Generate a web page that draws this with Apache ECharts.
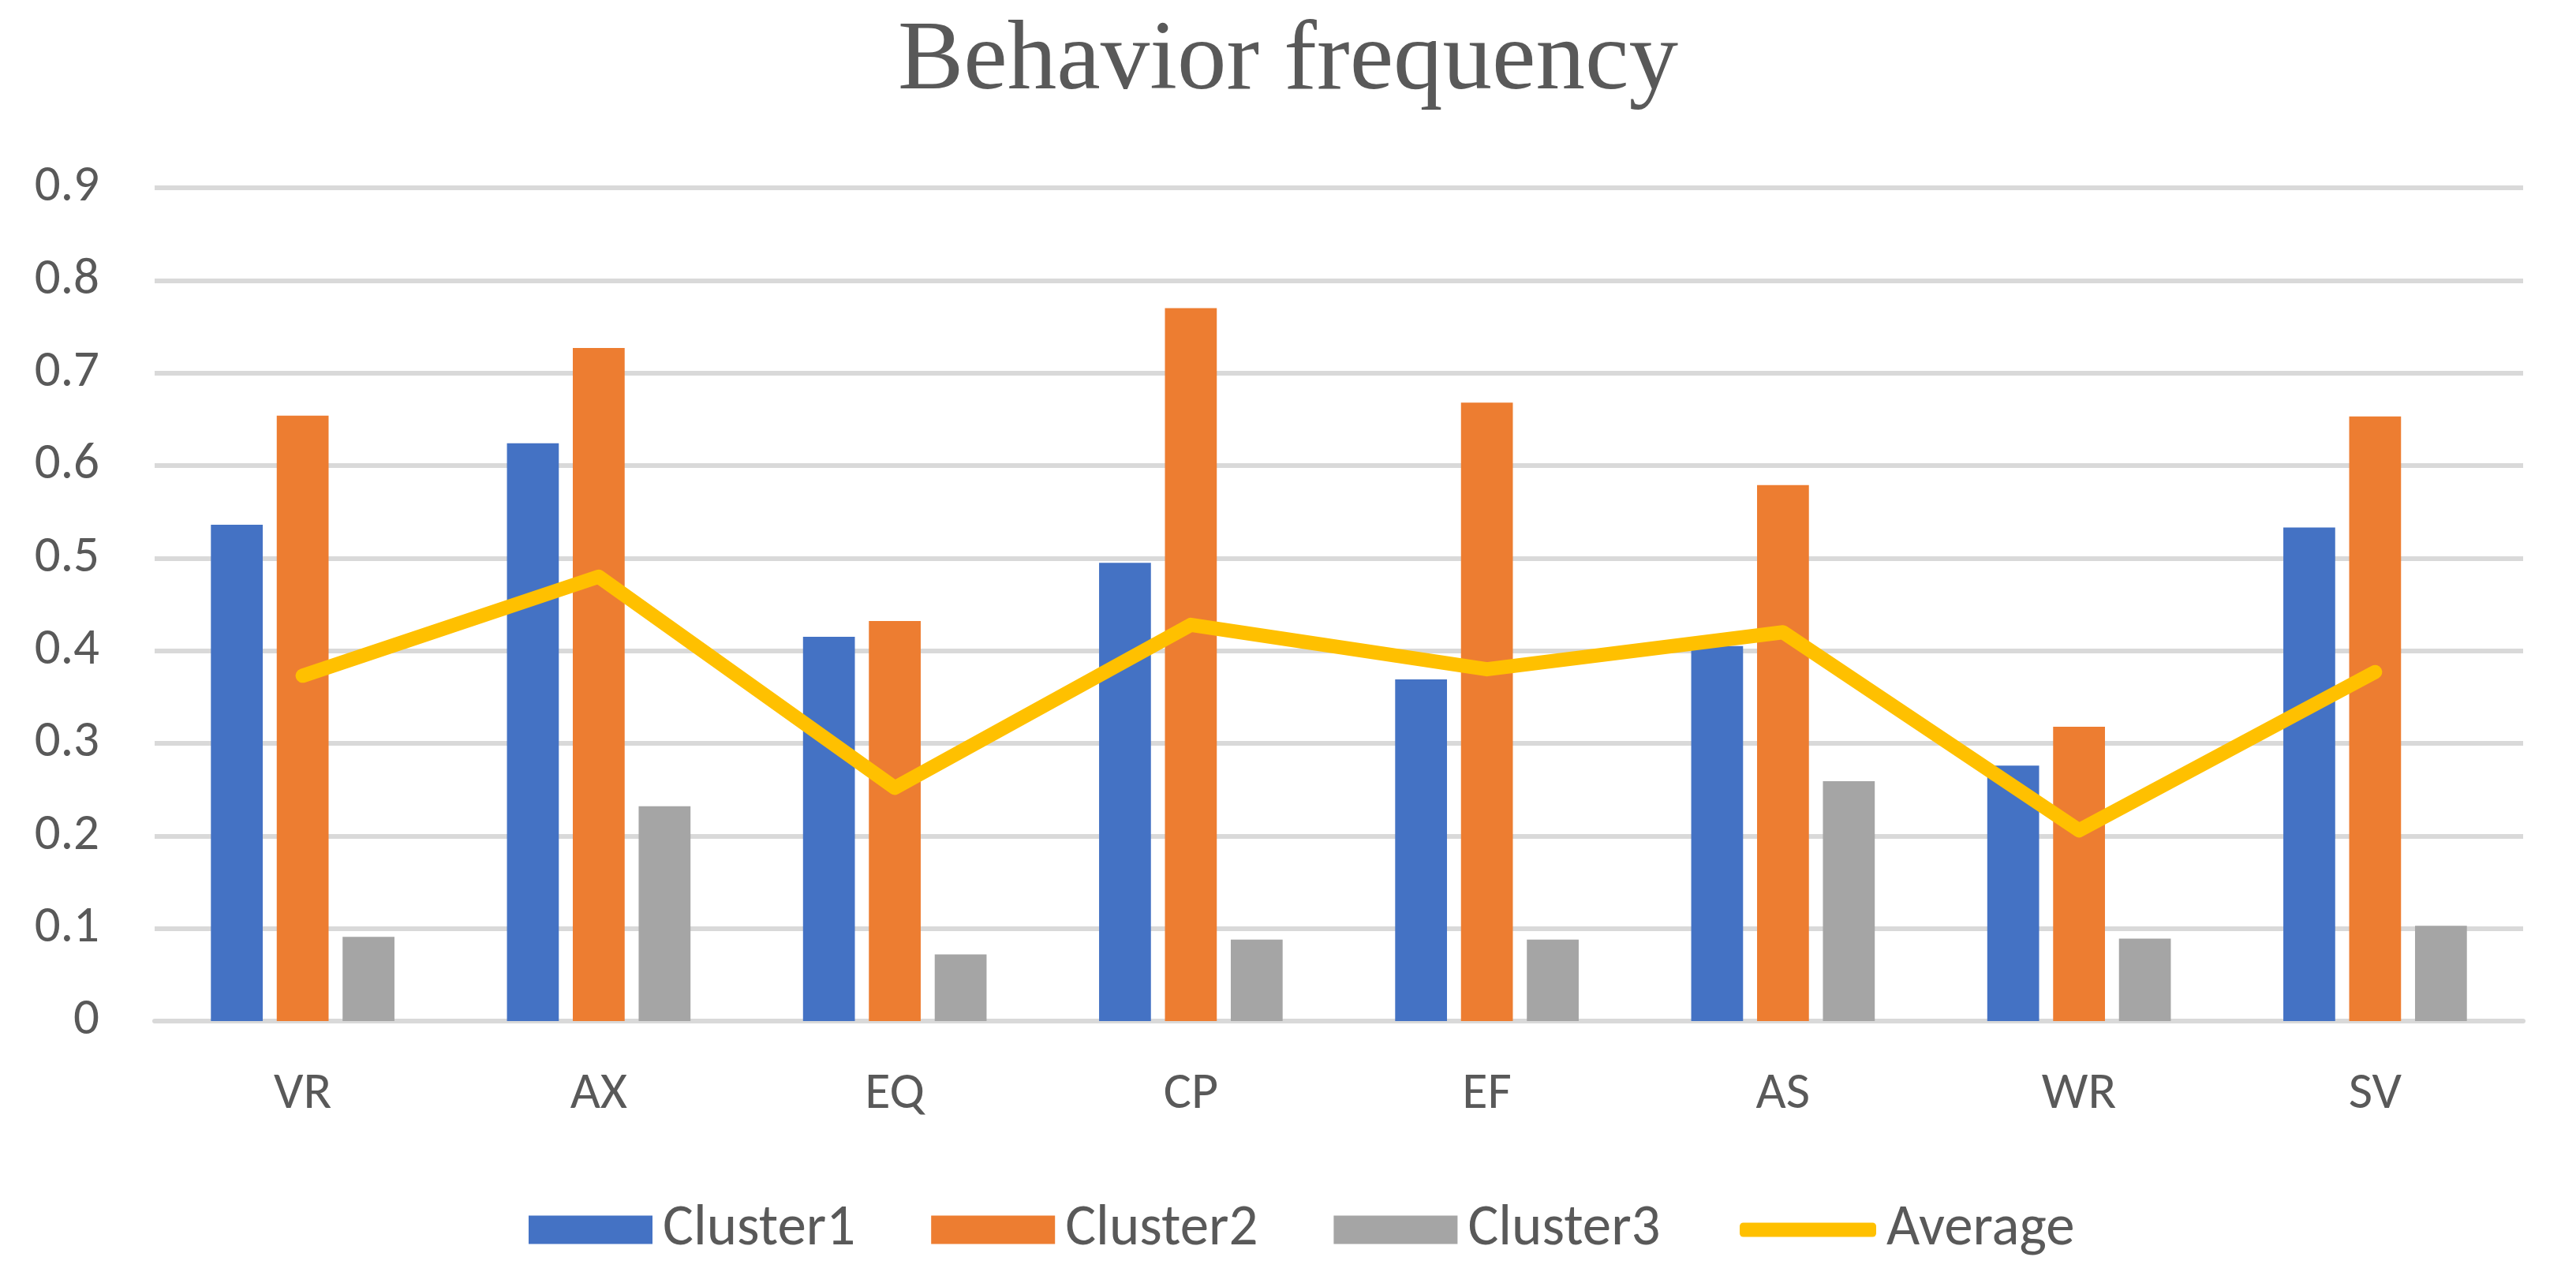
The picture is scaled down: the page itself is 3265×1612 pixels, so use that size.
<!DOCTYPE html>
<html>
<head>
<meta charset="utf-8">
<script src="https://cdn.jsdelivr.net/npm/echarts@6/dist/echarts.min.js"></script>
<style>
html,body{margin:0;padding:0;background:#fff;}
#chart{width:3265px;height:1612px;}
</style>
</head>
<body>
<div id="chart"></div>
<script>
const categories = ['VR','AX','EQ','CP','EF','AS','WR','SV'];
const cluster1 = [0.536, 0.624, 0.415, 0.495, 0.369, 0.405, 0.276, 0.533];
const cluster2 = [0.654, 0.727, 0.432, 0.770, 0.668, 0.579, 0.318, 0.653];
const cluster3 = [0.091, 0.232, 0.072, 0.088, 0.088, 0.259, 0.089, 0.103];
const average  = [0.373, 0.480, 0.252, 0.428, 0.380, 0.420, 0.206, 0.377];
const barNames = ['Cluster1','Cluster2','Cluster3'];
const lineName = 'Average';

const chart = echarts.init(document.getElementById('chart'), null, {renderer:'canvas'});
const textColor = '#595959';
const font = 'Carlito, Lato, sans-serif';
const legendText = {fontFamily: font, fontSize: 73, color: textColor, padding: [0,0,0,8]};
chart.setOption({
  animation: false,
  backgroundColor: '#ffffff',
  title: {
    text: 'Behavior frequency',
    left: 'center',
    top: 12,
    textStyle: {fontFamily: '"Liberation Serif", serif', fontSize: 125, fontWeight: 'normal', color: textColor}
  },
  legend: [{
    data: barNames.map(n => ({name: n, icon: 'rect'})),
    top: 1522,
    left: 670,
    padding: 0,
    itemWidth: 157,
    itemHeight: 36,
    itemGap: 96,
    textStyle: legendText
  }, {
    data: [{name: lineName, icon: 'roundRect'}],
    top: 1522,
    left: 2205,
    padding: 0,
    itemWidth: 173,
    itemHeight: 18,
    textStyle: legendText
  }],
  grid: {left: 196, right: 67, top: 238, bottom: 318, containLabel: false},
  xAxis: {
    type: 'category',
    data: categories,
    axisLine: {lineStyle: {color: '#d9d9d9', width: 6}},
    axisTick: {show: false},
    axisLabel: {fontFamily: font, fontSize: 66, color: textColor, margin: 60}
  },
  yAxis: {
    type: 'value',
    min: 0, max: 0.9, interval: 0.1,
    axisLine: {show: false},
    axisTick: {show: false},
    splitLine: {lineStyle: {color: '#d9d9d9', width: 6}},
    axisLabel: {fontFamily: font, fontSize: 65, color: textColor, margin: 70,
      formatter: v => v === 0 ? '0' : v.toFixed(1)}
  },
  series: [
    {name: 'Cluster1', type: 'bar', data: cluster1, itemStyle: {color: '#4472C4'}, barGap: '27%', barCategoryGap: '38%'},
    {name: 'Cluster2', type: 'bar', data: cluster2, itemStyle: {color: '#ED7D31'}},
    {name: 'Cluster3', type: 'bar', data: cluster3, itemStyle: {color: '#A5A5A5'}},
    {name: lineName, type: 'line', data: average, symbol: 'none', showSymbol: false,
      lineStyle: {color: '#FFC000', width: 18, cap: 'round', join: 'round'},
      itemStyle: {color: '#FFC000'}, z: 5}
  ]
});
</script>
</body>
</html>
